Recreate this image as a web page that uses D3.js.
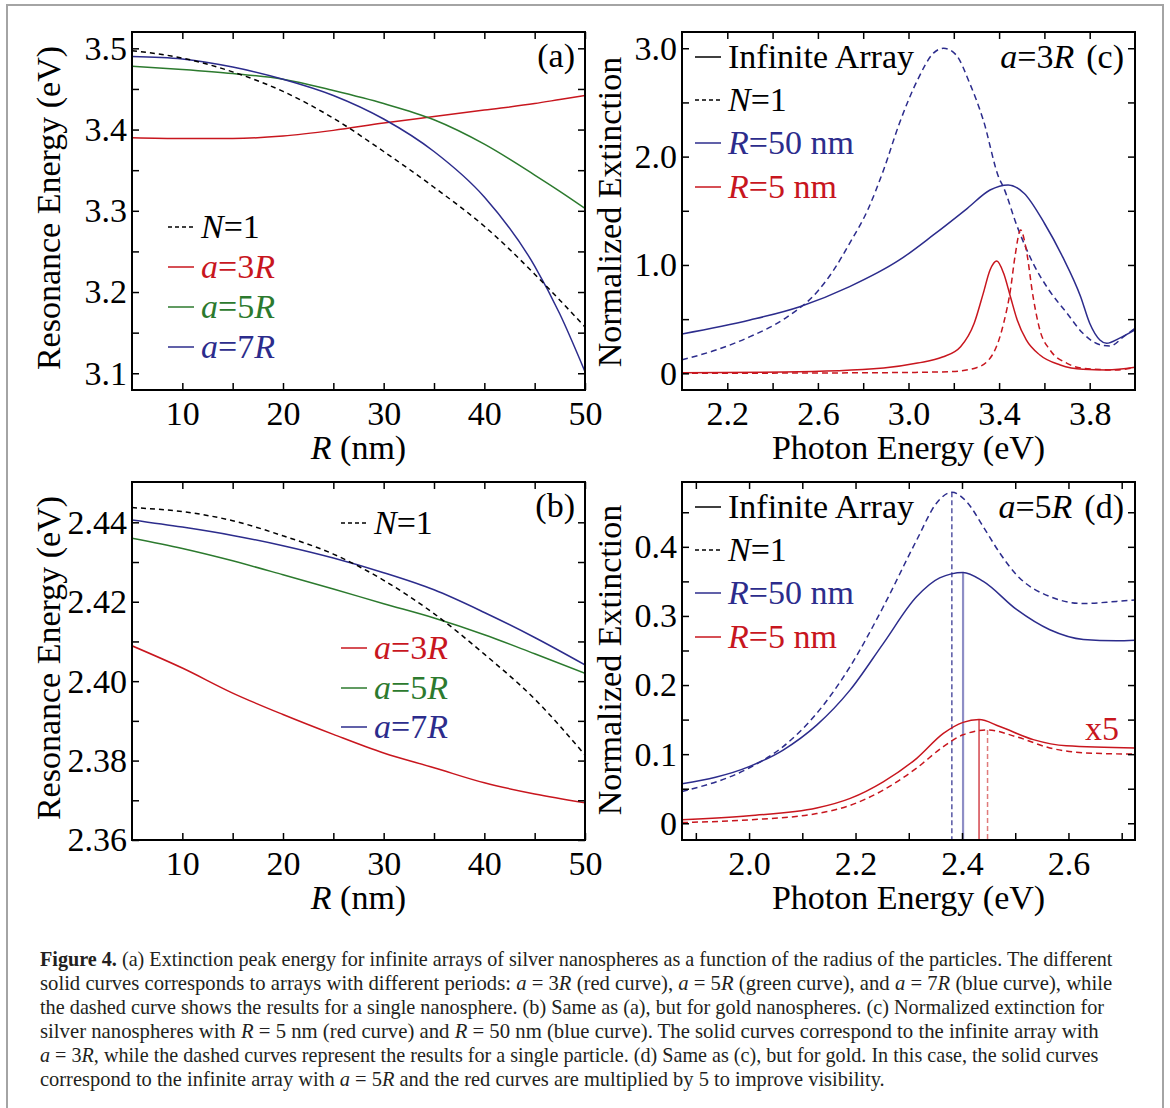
<!DOCTYPE html>
<html>
<head>
<meta charset="utf-8">
<script src="https://cdn.jsdelivr.net/npm/d3@7"></script>
<style>
  body { margin: 0; background: #fff; }
  svg text { font-family: "Liberation Serif", "Times New Roman", serif; }
</style>
</head>
<body>
<svg id="fig" width="1170" height="1108"></svg>
<script>
// ---------- (a) silver: peak energy (eV) vs radius R (nm) ----------
const radiusAg = [5, 10, 15, 20, 25, 30, 35, 40, 45, 47.5, 50];
const agSingle = [3.497, 3.488, 3.471, 3.447, 3.414, 3.373, 3.329, 3.281, 3.222, 3.190, 3.157];
const agA3 = [3.390, 3.389, 3.389, 3.392, 3.399, 3.408, 3.416, 3.424, 3.432, 3.437, 3.442];
const agA5 = [3.478, 3.474, 3.469, 3.462, 3.448, 3.432, 3.412, 3.382, 3.344, 3.324, 3.303];
const agA7 = [3.490, 3.487, 3.477, 3.462, 3.442, 3.413, 3.373, 3.317, 3.232, 3.173, 3.102];

// ---------- (b) gold: peak energy (eV) vs radius R (nm) ----------
const radiusAu = [5, 10, 15, 20, 25, 30, 35, 40, 45, 50];
const auSingle = [2.4437, 2.4427, 2.4404, 2.4366, 2.4320, 2.4254, 2.4170, 2.4068, 2.3955, 2.3814];
const auA3 = [2.4089, 2.4033, 2.3970, 2.3916, 2.3866, 2.3819, 2.3782, 2.3744, 2.3716, 2.3694];
const auA5 = [2.4360, 2.4334, 2.4303, 2.4268, 2.4232, 2.4195, 2.4159, 2.4117, 2.4069, 2.4020];
const auA7 = [2.4406, 2.4388, 2.4367, 2.4341, 2.4310, 2.4273, 2.4230, 2.4173, 2.4110, 2.4041];

// ---------- (c) silver spectra, a = 3R ----------
const cE50single = [2.0, 2.15, 2.3, 2.45, 2.6, 2.67, 2.74, 2.82, 2.89, 2.96, 3.04, 3.11, 3.155, 3.21, 3.27, 3.33, 3.40, 3.418, 3.48, 3.55, 3.62, 3.70, 3.77, 3.85, 3.89, 3.95, 4.0];
const cV50single = [0.125, 0.215, 0.338, 0.500, 0.760, 0.954, 1.200, 1.508, 1.877, 2.308, 2.708, 2.955, 3.0, 2.939, 2.678, 2.339, 1.800, 1.723, 1.354, 1.016, 0.769, 0.554, 0.369, 0.261, 0.252, 0.338, 0.415];
const cE50array = [2.0, 2.3, 2.52, 2.74, 2.96, 3.11, 3.26, 3.36, 3.44, 3.51, 3.60, 3.68, 3.76, 3.80, 3.845, 3.875, 3.93, 4.0];
const cV50array = [0.363, 0.492, 0.615, 0.800, 1.046, 1.277, 1.523, 1.692, 1.739, 1.662, 1.385, 1.077, 0.707, 0.462, 0.308, 0.277, 0.323, 0.400];
const cE5array = [2.0, 2.45, 2.89, 3.04, 3.15, 3.23, 3.29, 3.33, 3.36, 3.39, 3.42, 3.45, 3.48, 3.52, 3.58, 3.67, 3.77, 3.875, 4.0];
const cV5array = [0.005, 0.012, 0.050, 0.095, 0.150, 0.246, 0.462, 0.738, 0.954, 1.037, 0.923, 0.707, 0.492, 0.308, 0.169, 0.077, 0.037, 0.031, 0.055];
const cE5single = [2.0, 2.89, 3.18, 3.30, 3.37, 3.42, 3.45, 3.47, 3.495, 3.52, 3.55, 3.58, 3.625, 3.70, 3.77, 3.92, 4.0];
const cV5single = [0.0, 0.006, 0.015, 0.052, 0.169, 0.462, 0.769, 1.077, 1.323, 1.139, 0.707, 0.400, 0.215, 0.092, 0.046, 0.031, 0.055];

// ---------- (d) gold spectra, a = 5R (red curves x5) ----------
const dE50single = [1.874, 2.0, 2.064, 2.127, 2.19, 2.252, 2.315, 2.352, 2.381, 2.409, 2.44, 2.471, 2.503, 2.565, 2.628, 2.69, 2.725];
const dV50single = [0.046, 0.080, 0.111, 0.159, 0.227, 0.313, 0.410, 0.463, 0.479, 0.465, 0.429, 0.391, 0.359, 0.328, 0.318, 0.321, 0.323];
const dE50array = [1.874, 2.0, 2.064, 2.127, 2.19, 2.252, 2.315, 2.358, 2.402, 2.44, 2.503, 2.565, 2.628, 2.69, 2.725];
const dV50array = [0.057, 0.082, 0.106, 0.142, 0.193, 0.260, 0.328, 0.355, 0.363, 0.350, 0.309, 0.280, 0.266, 0.264, 0.265];
const dE5array = [1.874, 2.0, 2.127, 2.19, 2.252, 2.315, 2.365, 2.402, 2.432, 2.471, 2.534, 2.596, 2.725];
const dV5array = [0.005, 0.011, 0.022, 0.036, 0.060, 0.094, 0.130, 0.146, 0.150, 0.140, 0.121, 0.112, 0.109];
const dE5single = [1.874, 2.0, 2.127, 2.19, 2.252, 2.315, 2.365, 2.402, 2.448, 2.503, 2.565, 2.628, 2.725];
const dV5single = [0.001, 0.005, 0.014, 0.026, 0.048, 0.080, 0.111, 0.128, 0.135, 0.125, 0.109, 0.102, 0.100];

// ---------- tick labels ----------
const ticksRadius = [10, 20, 30, 40, 50];
const ticksAgEnergy = [3.1, 3.2, 3.3, 3.4, 3.5];
const ticksAuEnergy = [2.36, 2.38, 2.40, 2.42, 2.44];
const ticksPhotonAg = [2.2, 2.6, 3.0, 3.4, 3.8];
const ticksExtAg = [0, 1, 2, 3];
const ticksPhotonAu = [2.0, 2.2, 2.4, 2.6];
const ticksExtAu = [0, 0.1, 0.2, 0.3, 0.4];

// ---------- caption ----------
const captionLines = [
  [["Figure 4.", "b"], [" (a) Extinction peak energy for infinite arrays of silver nanospheres as a function of the radius of the particles. The different"]],
  [["solid curves corresponds to arrays with different periods: "], ["a", "i"], [" = 3"], ["R", "i"], [" (red curve), "], ["a", "i"], [" = 5"], ["R", "i"], [" (green curve), and "], ["a", "i"], [" = 7"], ["R", "i"], [" (blue curve), while"]],
  [["the dashed curve shows the results for a single nanosphere. (b) Same as (a), but for gold nanospheres. (c) Normalized extinction for"]],
  [["silver nanospheres with "], ["R", "i"], [" = 5 nm (red curve) and "], ["R", "i"], [" = 50 nm (blue curve). The solid curves correspond to the infinite array with"]],
  [["a", "i"], [" = 3"], ["R", "i"], [", while the dashed curves represent the results for a single particle. (d) Same as (c), but for gold. In this case, the solid curves"]],
  [["correspond to the infinite array with "], ["a", "i"], [" = 5"], ["R", "i"], [" and the red curves are multiplied by 5 to improve visibility."]]
];
const captionEnds = [1113, 1113, 1105, 1099, 1099, 885];

const RED = "#c8161e", BLUE = "#2c2c8c", GREEN = "#2c7a2e", LIGHTBLUE = "#8e8ec6", LIGHTRED = "#e07a7a";
const FONT = 34;
const svg = d3.select("#fig");

// outer figure border
svg.append("rect").attr("x", 7).attr("y", 5).attr("width", 1156).attr("height", 1120)
  .attr("fill", "none").attr("stroke", "#a4a4a4").attr("stroke-width", 2);

function rich(g, x, y, parts, color, anchor) {
  const t = g.append("text").attr("x", x).attr("y", y).attr("fill", color)
    .attr("font-size", FONT).attr("text-anchor", anchor || "start").style("white-space", "pre");
  parts.forEach(p => {
    const s = t.append("tspan").text(p[0]);
    if (p[1] === "i") s.attr("font-style", "italic");
    if (p[1] === "b") s.attr("font-weight", "bold");
    if (p[2]) s.attr("dx", p[2]);
  });
  return t;
}

function panel(p) {
  const x = d3.scaleLinear().domain(p.xDomain).range([p.left, p.right]);
  const y = d3.scaleLinear().domain(p.yDomain).range([p.bottom, p.top]);
  const g = svg.append("g");
  svg.append("clipPath").attr("id", "clip-" + p.id).append("rect")
    .attr("x", p.left).attr("y", p.top).attr("width", p.right - p.left).attr("height", p.bottom - p.top);
  const plot = g.append("g").attr("clip-path", `url(#clip-${p.id})`);

  const style = sel => {
    sel.select(".domain").remove();
    sel.selectAll(".tick line").attr("stroke", "#000").attr("stroke-width", 1.5);
    sel.attr("font-family", null).attr("font-size", FONT);
    sel.selectAll("text").attr("fill", "#000");
  };
  const T = 7;
  // minor + major ticks on all four sides, pointing inward
  g.append("g").attr("transform", `translate(0,${p.bottom})`)
    .call(d3.axisBottom(x).tickValues(p.xMinor).tickSize(-T).tickFormat("")).call(style);
  g.append("g").attr("transform", `translate(0,${p.top})`)
    .call(d3.axisTop(x).tickValues(p.xMinor).tickSize(-T).tickFormat("")).call(style);
  g.append("g").attr("transform", `translate(${p.left},0)`)
    .call(d3.axisLeft(y).tickValues(p.yMinor).tickSize(-T).tickFormat("")).call(style);
  g.append("g").attr("transform", `translate(${p.right},0)`)
    .call(d3.axisRight(y).tickValues(p.yMinor).tickSize(-T).tickFormat("")).call(style);
  // labelled ticks
  g.append("g").attr("transform", `translate(0,${p.bottom})`)
    .call(d3.axisBottom(x).tickValues(p.xLabels).tickSize(0).tickPadding(11).tickFormat(p.xFmt)).call(style);
  g.append("g").attr("transform", `translate(${p.left},0)`)
    .call(d3.axisLeft(y).tickValues(p.yLabels).tickSize(0).tickPadding(5).tickFormat(p.yFmt)).call(style);

  g.append("rect").attr("x", p.left).attr("y", p.top).attr("width", p.right - p.left).attr("height", p.bottom - p.top)
    .attr("fill", "none").attr("stroke", "#000").attr("stroke-width", 2);

  // axis titles
  rich(g, (p.left + p.right) / 2, p.bottom + 69, p.xTitle, "#000", "middle");
  rich(g, 0, 0, p.yTitle, "#000", "middle").attr("transform", `translate(${p.yTitleX},${p.yTitleY}) rotate(-90)`);
  return { x, y, g, plot };
}

function curve(P, xs, ys, color, dash, width) {
  const line = d3.line().x(d => P.x(d[0])).y(d => P.y(d[1])).curve(d3.curveMonotoneX);
  P.plot.append("path").datum(d3.zip(xs, ys)).attr("d", line)
    .attr("fill", "none").attr("stroke", color).attr("stroke-width", width || 1.5)
    .attr("stroke-dasharray", dash || null);
}

function legendRow(g, x, y, parts, color, dash, textColor) {
  g.append("line").attr("x1", x).attr("x2", x + 26).attr("y1", y).attr("y2", y)
    .attr("stroke", color).attr("stroke-width", 1.5).attr("stroke-dasharray", dash || null);
  rich(g, x + 33, y + 11, parts, textColor || color);
}

const fmt1 = d3.format(".1f"), fmt2 = d3.format(".2f");
const fmt0 = d => d === 0 ? "0" : d3.format(".1f")(d);

// ----- panel (a) -----
const A = panel({
  id: "a", left: 132, right: 585, top: 32, bottom: 390,
  xDomain: [5, 50], yDomain: [3.0794, 3.5201],
  xMinor: d3.range(10, 50.01, 5), yMinor: d3.range(3.1, 3.501, 0.05),
  xLabels: ticksRadius, yLabels: ticksAgEnergy, xFmt: d3.format("d"), yFmt: fmt1,
  xTitle: [["R", "i"], [" (nm)"]], yTitle: [["Resonance Energy (eV)"]], yTitleX: 60, yTitleY: 208
});
curve(A, radiusAg, agA3, RED);
curve(A, radiusAg, agA5, GREEN);
curve(A, radiusAg, agA7, BLUE);
curve(A, radiusAg, agSingle, "#000", "5,4");
rich(A.g, 575, 67, [["(a)"]], "#000", "end");
legendRow(A.g, 168, 227, [["N", "i"], ["=1"]], "#000", "4,3");
legendRow(A.g, 168, 267, [["a", "i"], ["=3"], ["R", "i"]], RED);
legendRow(A.g, 168, 307, [["a", "i"], ["=5"], ["R", "i"]], GREEN);
legendRow(A.g, 168, 347, [["a", "i"], ["=7"], ["R", "i"]], BLUE);

// ----- panel (b) -----
const B = panel({
  id: "b", left: 132, right: 585, top: 482, bottom: 840,
  xDomain: [5, 50], yDomain: [2.36, 2.45015],
  xMinor: d3.range(10, 50.01, 5), yMinor: d3.range(2.36, 2.4401, 0.01),
  xLabels: ticksRadius, yLabels: ticksAuEnergy, xFmt: d3.format("d"), yFmt: fmt2,
  xTitle: [["R", "i"], [" (nm)"]], yTitle: [["Resonance Energy (eV)"]], yTitleX: 60, yTitleY: 658
});
curve(B, radiusAu, auA3, RED);
curve(B, radiusAu, auA5, GREEN);
curve(B, radiusAu, auA7, BLUE);
curve(B, radiusAu, auSingle, "#000", "5,4");
rich(B.g, 575, 517, [["(b)"]], "#000", "end");
legendRow(B.g, 341, 523, [["N", "i"], ["=1"]], "#000", "4,3");
legendRow(B.g, 341, 648, [["a", "i"], ["=3"], ["R", "i"]], RED);
legendRow(B.g, 341, 688, [["a", "i"], ["=5"], ["R", "i"]], GREEN);
legendRow(B.g, 341, 727, [["a", "i"], ["=7"], ["R", "i"]], BLUE);

// ----- panel (c) -----
const C = panel({
  id: "c", left: 682, right: 1135, top: 32, bottom: 390,
  xDomain: [2.0, 4.0], yDomain: [-0.154, 3.150],
  xMinor: d3.range(2.2, 3.801, 0.2), yMinor: d3.range(0, 3.01, 0.5),
  xLabels: ticksPhotonAg, yLabels: ticksExtAg, xFmt: fmt1, yFmt: fmt0,
  xTitle: [["Photon Energy (eV)"]], yTitle: [["Normalized Extinction"]], yTitleX: 621, yTitleY: 212
});
curve(C, cE50single, cV50single, BLUE, "6,4");
curve(C, cE50array, cV50array, BLUE);
curve(C, cE5single, cV5single, RED, "6,4");
curve(C, cE5array, cV5array, RED);
rich(C.g, 1124, 68, [["a", "i"], ["=3"], ["R", "i"], ["(c)", null, 12]], "#000", "end");
legendRow(C.g, 695, 57, [["Infinite Array"]], "#000");
legendRow(C.g, 695, 100, [["N", "i"], ["=1"]], "#000", "4,3");
legendRow(C.g, 695, 143, [["R", "i"], ["=50 nm"]], BLUE);
legendRow(C.g, 695, 187, [["R", "i"], ["=5 nm"]], RED);

// ----- panel (d) -----
const D = panel({
  id: "d", left: 682, right: 1135, top: 482, bottom: 840,
  xDomain: [1.874, 2.725], yDomain: [-0.0242, 0.4938],
  xMinor: d3.range(1.9, 2.701, 0.1), yMinor: d3.range(0, 0.4501, 0.05),
  xLabels: ticksPhotonAu, yLabels: ticksExtAu, xFmt: fmt1, yFmt: fmt0,
  xTitle: [["Photon Energy (eV)"]], yTitle: [["Normalized Extinction"]], yTitleX: 621, yTitleY: 660
});
// vertical markers at each spectrum's maximum
function peakLine(P, xs, ys, color, dash, width) {
  const i = d3.maxIndex(ys);
  P.plot.append("line").attr("x1", P.x(xs[i])).attr("x2", P.x(xs[i]))
    .attr("y1", P.y(ys[i])).attr("y2", P.y.range()[0])
    .attr("stroke", color).attr("stroke-width", width).attr("stroke-dasharray", dash || null);
}
peakLine(D, dE50single, dV50single, BLUE, "5,3", 1.2);
peakLine(D, dE50array, dV50array, LIGHTBLUE, null, 2.2);
peakLine(D, dE5array, dV5array, RED, null, 1.2);
peakLine(D, dE5single, dV5single, LIGHTRED, "5,3", 1.5);
curve(D, dE50single, dV50single, BLUE, "6,4");
curve(D, dE50array, dV50array, BLUE);
curve(D, dE5single, dV5single, RED, "6,4");
curve(D, dE5array, dV5array, RED);
rich(D.g, 1124, 518, [["a", "i"], ["=5"], ["R", "i"], ["(d)", null, 12]], "#000", "end");
rich(D.g, 1085, 740, [["x5"]], RED);
legendRow(D.g, 695, 507, [["Infinite Array"]], "#000");
legendRow(D.g, 695, 550, [["N", "i"], ["=1"]], "#000", "4,3");
legendRow(D.g, 695, 593, [["R", "i"], ["=50 nm"]], BLUE);
legendRow(D.g, 695, 637, [["R", "i"], ["=5 nm"]], RED);

// ----- caption: each line squeezed horizontally to its column width -----
const cap = svg.append("g");
captionLines.forEach((parts, i) => {
  const t = cap.append("text").attr("x", 0).attr("y", 0)
    .attr("font-size", 21).attr("fill", "#231f20").style("white-space", "pre");
  parts.forEach(p => {
    const s = t.append("tspan").text(p[0]);
    if (p[1] === "i") s.attr("font-style", "italic");
    if (p[1] === "b") s.attr("font-weight", "bold");
  });
  const natural = t.node().getComputedTextLength();
  const k = (captionEnds[i] - 40) / natural;
  t.attr("transform", `translate(40,${966 + 24 * i}) scale(${k},1)`);
});
</script>
</body>
</html>
